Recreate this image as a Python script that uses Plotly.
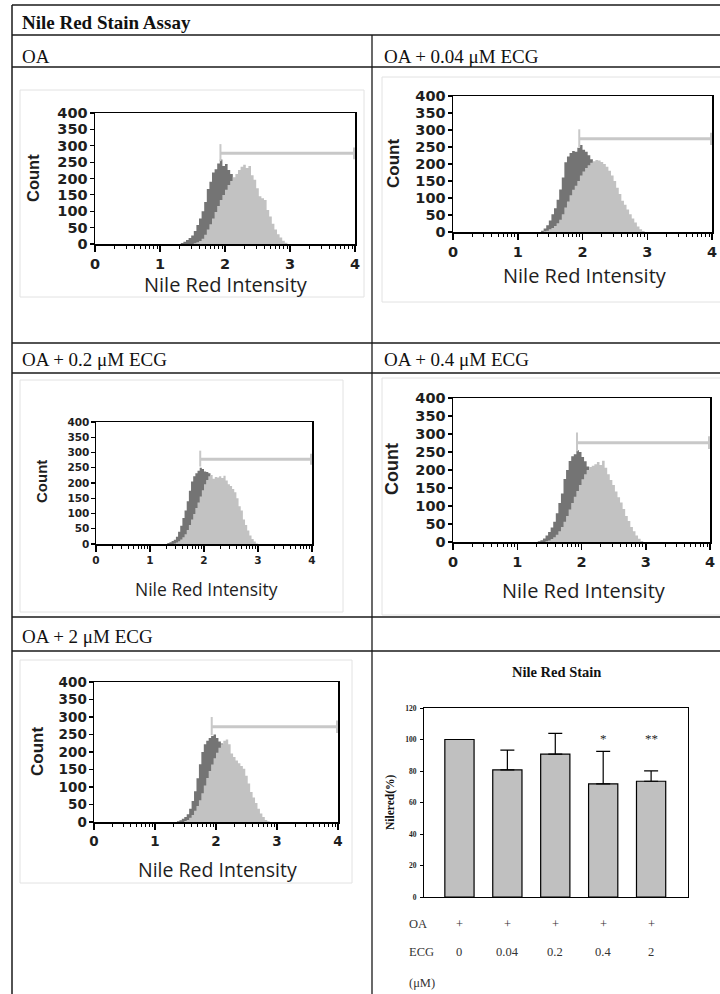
import numpy as np
import plotly.graph_objects as go

W, H = 720, 994


def fx(x):
    """Pixel column -> paper x."""
    return x / W


def fy(y):
    """Pixel row -> paper y."""
    return 1 - y / H


# ---------------------------------------------------------------- data
# Histogram bins along the Nile Red intensity axis (log decades)
BIN_START = 1.28
BIN_WIDTH = 0.04

panel_labels = ["OA", "OA + 0.04 μM ECG", "OA + 0.2 μM ECG", "OA + 0.4 μM ECG", "OA + 2 μM ECG"]

# dark overlay (reference population) counts per bin
ref_oa = [0, 3, 7, 12, 18, 26, 40, 58, 78, 100, 128, 168, 190, 218, 228, 246, 258, 238, 244, 226, 214, 170,
          150, 128, 104, 84, 64, 48, 34, 24, 16, 10, 6, 4, 2, 1, 0, 0, 0, 0, 0, 0, 0]
ref_ecg004 = [0, 0, 4, 10, 20, 34, 52, 70, 95, 125, 160, 205, 222, 232, 238, 236, 248, 256, 242, 236, 226, 214,
              180, 150, 120, 95, 72, 52, 36, 24, 15, 9, 5, 3, 1, 0, 0, 0, 0, 0, 0, 0, 0]
ref_ecg02 = [0, 3, 6, 10, 14, 24, 40, 60, 85, 110, 140, 175, 205, 222, 232, 240, 250, 246, 238, 236, 232, 200,
             170, 140, 110, 86, 64, 46, 32, 22, 14, 8, 5, 3, 1, 0, 0, 0, 0, 0, 0, 0, 0]
ref_ecg04 = [0, 2, 5, 10, 18, 28, 40, 56, 80, 108, 135, 175, 200, 225, 238, 244, 255, 250, 236, 224, 210, 180,
             150, 120, 94, 72, 54, 38, 26, 18, 11, 7, 4, 2, 1, 0, 0, 0, 0, 0, 0, 0, 0]
ref_ecg2 = [0, 0, 2, 5, 9, 14, 22, 38, 60, 88, 125, 165, 200, 222, 232, 240, 246, 250, 240, 230, 224, 190,
            160, 128, 100, 76, 56, 40, 28, 18, 11, 6, 3, 1, 0, 0, 0, 0, 0, 0, 0, 0, 0]

# light overlay (stained sample) counts per bin
smp_oa = [0, 0, 0, 0, 0, 0, 2, 5, 9, 16, 28, 44, 60, 78, 98, 116, 134, 150, 166, 180, 192, 204,
          214, 226, 236, 242, 232, 238, 210, 196, 170, 146, 140, 134, 104, 84, 62, 44, 30, 20, 10, 4, 0]
smp_ecg004 = [0, 0, 0, 2, 4, 8, 12, 18, 26, 36, 52, 72, 90, 108, 124, 136, 150, 166, 178, 188, 196, 204,
              208, 212, 210, 206, 200, 192, 180, 166, 150, 130, 112, 92, 80, 66, 52, 40, 28, 16, 8, 3, 0]
smp_ecg02 = [0, 0, 0, 0, 2, 5, 9, 15, 22, 32, 46, 62, 80, 98, 118, 136, 156, 176, 196, 210, 222, 226,
             214, 220, 218, 222, 216, 224, 208, 196, 190, 180, 170, 150, 124, 110, 80, 62, 44, 28, 16, 8, 2]
smp_ecg04 = [0, 0, 0, 0, 2, 4, 8, 13, 20, 30, 42, 56, 72, 90, 108, 126, 142, 158, 174, 188, 200, 208,
             212, 216, 222, 214, 226, 206, 188, 172, 158, 140, 124, 110, 92, 72, 58, 42, 30, 18, 9, 3, 0]
smp_ecg2 = [0, 0, 0, 0, 0, 3, 6, 12, 20, 32, 46, 62, 82, 104, 126, 146, 164, 182, 198, 212, 222, 232,
            236, 222, 196, 186, 176, 168, 160, 152, 132, 110, 86, 70, 54, 38, 24, 14, 6, 2, 0, 0, 0]

ref_series = [ref_oa, ref_ecg004, ref_ecg02, ref_ecg04, ref_ecg2]
smp_series = [smp_oa, smp_ecg004, smp_ecg02, smp_ecg04, smp_ecg2]

# positive gate (start, end, level in counts)
gate_start = [1.93, 1.95, 1.93, 1.93, 1.93]
gate_end = [4.0, 4.0, 4.0, 4.0, 4.0]
gate_level = [277, 274, 278, 276, 272]

intensity_ticks = [0, 1, 2, 3, 4]
count_ticks = [0, 50, 100, 150, 200, 250, 300, 350, 400]

# quantified Nile Red stain
ecg_doses = ["0", "0.04", "0.2", "0.4", "2"]
oa_added = ["+", "+", "+", "+", "+"]
nilered_pct = [100, 80.7, 90.7, 71.8, 73.5]
nilered_err = [0, 12.6, 13.2, 20.6, 6.6]
significance = ["", "", "", "*", "**"]
SIG_LEVEL = 100.5
pct_ticks = [0, 20, 40, 60, 80, 100, 120]

# ---------------------------------------------------------------- styling
DARK = "#747474"
LIGHT = "#c2c2c2"
GATE = "#c8c8c8"
INK = "#1e1e1e"
SERIF = "Liberation Serif, Times New Roman, serif"
TICKFONT = "DejaVu Sans"
SANS = "Open Sans, sans-serif"
ARIAL = "Liberation Sans, Arial, sans-serif"

# per-panel geometry in pixels: plot box (l, t, r, b), tick size, "Count" (x, y, size),
# axis title (x, y, size), image frame (l, t, r, b)
panels = [
    dict(box=(95, 113, 355, 244), tick=14.5, count=(33, 178, 16.5), title=(226, 283, 20), frame=(20, 90, 364, 297)),
    dict(box=(453, 96, 712, 232), tick=14.5, count=(393, 163, 17), title=(585, 273, 20), frame=(382, 77, 730, 302)),
    dict(box=(96, 422, 312, 544), tick=10.5, count=(42, 482, 15), title=(206, 587, 17.5), frame=(20, 380, 343, 612)),
    dict(box=(453, 398, 710, 542), tick=14.5, count=(392, 469, 18), title=(584, 588, 20), frame=(382, 378, 730, 615)),
    dict(box=(94, 682, 338, 822), tick=13.5, count=(37, 752, 17), title=(218, 867, 19.5), frame=(20, 660, 352, 883)),
]
label_pos = [(20, 56), (382, 56), (20, 360), (382, 360), (20, 636)]

minor_vals = [k + np.log10(m) for k in range(4) for m in range(2, 10)]

fig = go.Figure()
layout = dict(
    width=W, height=H, autosize=False,
    margin=dict(l=0, r=0, t=0, b=0, pad=0),
    paper_bgcolor="white", plot_bgcolor="white",
    showlegend=False,
)
annotations = []
shapes = []

for i, p in enumerate(panels):
    n = i + 1
    xa = "x" if n == 1 else f"x{n}"
    ya = "y" if n == 1 else f"y{n}"
    l, t, r, b = p["box"]
    for counts, color in ((ref_series[i], DARK), (smp_series[i], LIGHT)):
        edges = BIN_START + BIN_WIDTH * np.arange(len(counts) + 1)
        fig.add_trace(go.Scatter(
            x=edges, y=list(counts) + [0], xaxis=xa, yaxis=ya, mode="lines",
            line=dict(shape="hv", width=0, color=color), fill="tozeroy", fillcolor=color,
            hoverinfo="skip"))
    # gate bar with end markers
    g0, g1, gl = gate_start[i], gate_end[i], gate_level[i]
    fig.add_trace(go.Scatter(x=[g0, g1], y=[gl, gl], xaxis=xa, yaxis=ya, mode="lines",
                             line=dict(color=GATE, width=3), cliponaxis=False, hoverinfo="skip"))
    fig.add_trace(go.Scatter(x=[g0, g0], y=[gl - 24, gl + 28], xaxis=xa, yaxis=ya, mode="lines",
                             line=dict(color=GATE, width=2), cliponaxis=False, hoverinfo="skip"))
    fig.add_trace(go.Scatter(x=[g1, g1], y=[gl - 18, gl + 18], xaxis=xa, yaxis=ya, mode="lines",
                             line=dict(color=GATE, width=4), cliponaxis=False, hoverinfo="skip"))

    key = "" if n == 1 else str(n)
    layout["xaxis" + key] = dict(
        domain=[fx(l), fx(r)], anchor=ya, range=[0, 4], tickvals=intensity_ticks, automargin=False,
        ticks="outside", ticklen=6, tickwidth=1.5, tickcolor="black",
        minor=dict(tickvals=minor_vals, ticks="outside", ticklen=3, tickwidth=1, tickcolor="black"),
        showline=True, linecolor="black", linewidth=1.5, mirror=True, showgrid=False, zeroline=False,
        tickfont=dict(family=TICKFONT, size=p["tick"], color=INK, weight="bold"),
        ticklabelstandoff=0, fixedrange=True)
    layout["yaxis" + key] = dict(
        domain=[fy(b), fy(t)], anchor=xa, range=[0, 400], tickvals=count_ticks, automargin=False,
        ticks="outside", ticklen=4, tickwidth=1.2, tickcolor="black",
        showline=True, linecolor="black", linewidth=1.5, mirror=True, showgrid=False, zeroline=False,
        tickfont=dict(family=TICKFONT, size=p["tick"], color=INK, weight="bold"),
        ticklabelstandoff=-1, fixedrange=True)

    cx, cy, cs = p["count"]
    annotations.append(dict(text="Count", x=fx(cx), y=fy(cy), xref="paper", yref="paper",
                            textangle=-90, showarrow=False, xanchor="center", yanchor="middle",
                            font=dict(family=ARIAL, size=cs, color=INK, weight="bold")))
    tx, ty, ts = p["title"]
    annotations.append(dict(text="Nile Red Intensity", x=fx(tx), y=fy(ty + 2), xref="paper", yref="paper",
                            showarrow=False, xanchor="center", yanchor="middle",
                            font=dict(family=SANS, size=ts, color=INK)))
    fl, ft, fr, fb = p["frame"]
    shapes.append(dict(type="rect", xref="paper", yref="paper", x0=fx(fl), x1=fx(fr), y0=fy(fb), y1=fy(ft),
                       line=dict(color="#e2e2e2", width=1), layer="below"))
    lx, ly = label_pos[i]
    annotations.append(dict(text=panel_labels[i], x=fx(lx), y=fy(ly), xref="paper", yref="paper",
                            showarrow=False, xanchor="left", yanchor="middle",
                            font=dict(family=SERIF, size=19, color="#111111")))

# ---------------------------------------------------------------- bar chart
bl, bt, br, bb = 424, 708, 688, 897
fig.add_trace(go.Bar(
    x=list(range(len(ecg_doses))), y=nilered_pct, xaxis="x6", yaxis="y6", width=0.61,
    marker=dict(color="#c0c0c0", line=dict(color="black", width=1.2)),
    error_y=dict(type="data", array=nilered_err, arrayminus=[0] * len(nilered_err), symmetric=False,
                 color="black", thickness=1.2, width=7),
    hoverinfo="skip"))
layout["xaxis6"] = dict(domain=[fx(bl), fx(br)], anchor="y6", range=[-0.74, 4.77], automargin=False,
                        showticklabels=False, ticks="", showline=True, linecolor="black", linewidth=1,
                        mirror=True, showgrid=False, zeroline=False, fixedrange=True)
layout["yaxis6"] = dict(domain=[fy(bb), fy(bt)], anchor="x6", range=[0, 120], tickvals=pct_ticks,
                        automargin=False,
                        ticks="outside", ticklen=3, tickcolor="black", showline=True, linecolor="black",
                        linewidth=1, mirror=True, showgrid=False, zeroline=False, ticklabelstandoff=2,
                        tickfont=dict(family=SERIF, size=7.5, color=INK, weight="bold"), fixedrange=True)

for i, dose in enumerate(ecg_doses):
    if significance[i]:
        annotations.append(dict(text=significance[i], x=i, y=SIG_LEVEL, xref="x6", yref="y6",
                                showarrow=False, xanchor="center", yanchor="middle",
                                font=dict(family=SERIF, size=13, color=INK)))
    annotations.append(dict(text=oa_added[i], x=i, y=fy(924), xref="x6", yref="paper",
                            showarrow=False, xanchor="center", yanchor="middle",
                            font=dict(family=SERIF, size=12.5, color="#333333")))
    annotations.append(dict(text=dose, x=i, y=fy(952), xref="x6", yref="paper",
                            showarrow=False, xanchor="center", yanchor="middle",
                            font=dict(family=SERIF, size=12.5, color="#333333")))

for txt, yy in (("OA", 924), ("ECG", 952), ("(μM)", 983)):
    annotations.append(dict(text=txt, x=fx(407), y=fy(yy), xref="paper", yref="paper", showarrow=False,
                            xanchor="left", yanchor="middle",
                            font=dict(family=SERIF, size=12.5, color="#333333")))

annotations.append(dict(text="Nile Red Stain", x=fx(556), y=fy(672), xref="paper", yref="paper",
                        showarrow=False, xanchor="center", yanchor="middle",
                        font=dict(family=SERIF, size=14.5, color="#111111", weight="bold")))
annotations.append(dict(text="Nilered(%)", x=fx(390), y=fy(802), xref="paper", yref="paper",
                        textangle=-90, showarrow=False, xanchor="center", yanchor="middle",
                        font=dict(family=SERIF, size=11.5, color="#111111", weight="bold")))

# ---------------------------------------------------------------- table frame
annotations.append(dict(text="Nile Red Stain Assay", x=fx(20), y=fy(22), xref="paper", yref="paper",
                        showarrow=False, xanchor="left", yanchor="middle",
                        font=dict(family=SERIF, size=19, color="#111111", weight="bold")))
for yy in (5, 35, 67, 343, 373, 617, 651):
    shapes.append(dict(type="line", xref="paper", yref="paper", x0=fx(12), x1=fx(720), y0=fy(yy), y1=fy(yy),
                       line=dict(color="#1a1a1a", width=1.3)))
shapes.append(dict(type="line", xref="paper", yref="paper", x0=fx(12), x1=fx(12), y0=fy(5), y1=fy(994),
                   line=dict(color="#1a1a1a", width=1.5)))
shapes.append(dict(type="line", xref="paper", yref="paper", x0=fx(372), x1=fx(372), y0=fy(35), y1=fy(994),
                   line=dict(color="#1a1a1a", width=1.3)))

layout["annotations"] = annotations
layout["shapes"] = shapes
fig.update_layout(**layout)

fig.write_html("out.html", config={"displayModeBar": False, "staticPlot": True})
